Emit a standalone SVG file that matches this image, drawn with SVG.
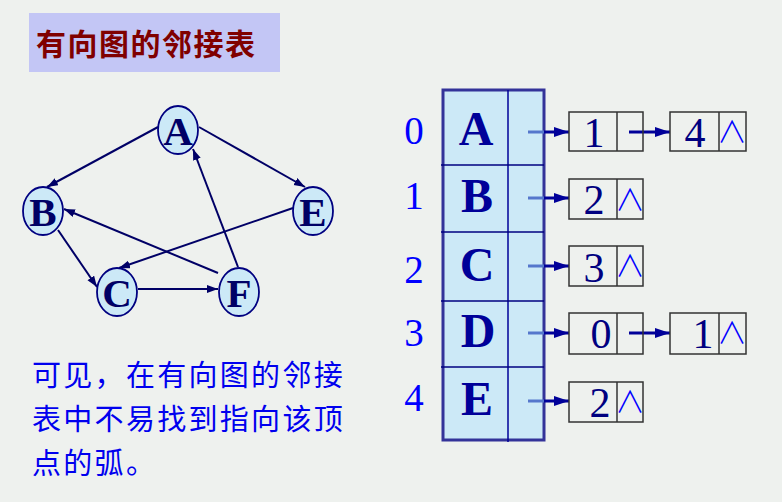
<svg xmlns="http://www.w3.org/2000/svg" width="782" height="502" viewBox="0 0 782 502">
<defs>
<style>
.node ellipse{fill:#cce9f7;stroke:#000080;stroke-width:1.8}
.node text{font-family:"Liberation Serif",serif;font-weight:bold;font-size:41px;fill:#000066;text-anchor:middle}
.edge{stroke:#000066;stroke-width:2;fill:none;marker-end:url(#ah)}
.tl{font-family:"Liberation Serif",serif;font-weight:bold;font-size:48px;fill:#000099;text-anchor:middle}
.idx{font-family:"Liberation Serif",serif;font-size:39px;fill:#0000ff;text-anchor:middle}
.box rect,.box line{fill:none;stroke:#333333;stroke-width:1.5}
.num{font-family:"Liberation Serif",serif;font-size:42px;fill:#000080;text-anchor:middle}
.nil{font-family:"Noto Sans CJK SC",sans-serif;font-weight:300;font-size:30px;fill:#0000ff;text-anchor:middle}
.ptr{stroke:#000099;stroke-width:3;fill:none;marker-end:url(#ah2)}
.ptrs{stroke:#5577cc;stroke-width:3}
.cjk{font-family:"Noto Sans CJK SC",sans-serif;font-size:29px;fill:#0000ee;letter-spacing:2.3px}
</style>
<marker id="ah" markerUnits="userSpaceOnUse" markerWidth="12" markerHeight="10" refX="11" refY="4" orient="auto"><path d="M0,0 L11,4 L0,8 z" fill="#000066"/></marker>
<marker id="ah2" markerUnits="userSpaceOnUse" markerWidth="16" markerHeight="12" refX="15" refY="5" orient="auto"><path d="M0,0 L15,5 L0,10 z" fill="#000099"/></marker>
</defs>
<rect width="782" height="502" fill="#eef1ee"/>
<g id="title">
<rect x="29" y="13" width="251" height="59" fill="#c3c6f5"/>
<text x="36" y="55" font-family="'Noto Sans CJK SC',sans-serif" font-weight="bold" font-size="30" fill="#800000" letter-spacing="1.5">有向图的邻接表</text>
</g>
<g id="connectors">
<line class="edge" x1="158" y1="127" x2="47" y2="187"/>
<line class="edge" x1="199" y1="127" x2="305" y2="187"/>
<line class="edge" x1="58" y1="230" x2="97" y2="287"/>
<line class="edge" x1="293" y1="208" x2="119" y2="268"/>
<line class="edge" x1="218" y1="273" x2="64" y2="209"/>
<line class="edge" x1="238" y1="267" x2="193" y2="149"/>
<line class="edge" x1="138" y1="289" x2="218" y2="289"/>
</g>
<g id="nA" class="node"><ellipse cx="178" cy="130" rx="20" ry="24"/><text x="178" y="145">A</text></g>
<g id="nB" class="node"><ellipse cx="43" cy="211" rx="20" ry="24"/><text x="43" y="226">B</text></g>
<g id="nE" class="node"><ellipse cx="313" cy="211" rx="20" ry="24"/><text x="313" y="226">E</text></g>
<g id="nC" class="node"><ellipse cx="117" cy="292" rx="20" ry="24"/><text x="117" y="307">C</text></g>
<g id="nF" class="node"><ellipse cx="239" cy="292" rx="20" ry="24"/><text x="239" y="307">F</text></g>
<g id="table">
<rect x="443" y="90" width="101" height="350" fill="#cce9f7" stroke="#333399" stroke-width="3"/>
<line x1="508" y1="90" x2="508" y2="442" stroke="#000099" stroke-width="1.5"/>
<line x1="441" y1="165" x2="544" y2="165" stroke="#000080" stroke-width="1.5"/>
<line x1="441" y1="232" x2="544" y2="232" stroke="#000080" stroke-width="1.5"/>
<line x1="441" y1="301" x2="544" y2="301" stroke="#000080" stroke-width="1.5"/>
<line x1="441" y1="367" x2="544" y2="367" stroke="#000080" stroke-width="1.5"/>
<text class="tl" x="476" y="145">A</text>
<text class="tl" x="477" y="212">B</text>
<text class="tl" x="477" y="281">C</text>
<text class="tl" x="478" y="347">D</text>
<text class="tl" x="477" y="415">E</text>
<text class="idx" x="414" y="144">0</text>
<text class="idx" x="414" y="209">1</text>
<text class="idx" x="414" y="283">2</text>
<text class="idx" x="414" y="346">3</text>
<text class="idx" x="414" y="411">4</text>
</g>
<g id="ptrs">
<line class="ptrs" x1="528" y1="132" x2="544" y2="132"/><line class="ptr" x1="544" y1="132" x2="569" y2="132"/>
<line class="ptrs" x1="528" y1="198" x2="544" y2="198"/><line class="ptr" x1="544" y1="198" x2="569" y2="198"/>
<line class="ptrs" x1="528" y1="266" x2="544" y2="266"/><line class="ptr" x1="544" y1="266" x2="569" y2="266"/>
<line class="ptrs" x1="528" y1="333" x2="544" y2="333"/><line class="ptr" x1="544" y1="333" x2="569" y2="333"/>
<line class="ptrs" x1="528" y1="401" x2="544" y2="401"/><line class="ptr" x1="544" y1="401" x2="569" y2="401"/>
<line class="ptr" x1="629" y1="132" x2="670" y2="132"/>
<line class="ptr" x1="629" y1="333" x2="670" y2="333"/>
</g>
<g id="r0a" class="box"><rect x="569" y="112" width="74" height="39"/><line x1="617" y1="112" x2="617" y2="151"/><text class="num" x="594" y="147">1</text></g>
<g id="r0b" class="box"><rect x="670" y="112" width="76" height="39"/><line x1="719" y1="112" x2="719" y2="151"/><text class="num" x="695" y="147">4</text><text class="nil" x="732" y="142">∧</text></g>
<g id="r1" class="box"><rect x="569" y="179" width="74" height="40"/><line x1="617" y1="179" x2="617" y2="219"/><text class="num" x="594" y="214">2</text><text class="nil" x="630" y="210">∧</text></g>
<g id="r2" class="box"><rect x="569" y="246" width="74" height="40"/><line x1="617" y1="246" x2="617" y2="286"/><text class="num" x="594" y="282">3</text><text class="nil" x="630" y="276">∧</text></g>
<g id="r3a" class="box"><rect x="569" y="313" width="74" height="41"/><line x1="617" y1="313" x2="617" y2="354"/><text class="num" x="601" y="348">0</text></g>
<g id="r3b" class="box"><rect x="670" y="313" width="76" height="41"/><line x1="719" y1="313" x2="719" y2="354"/><text class="num" x="703" y="348">1</text><text class="nil" x="732" y="343">∧</text></g>
<g id="r4" class="box"><rect x="569" y="382" width="74" height="40"/><line x1="617" y1="382" x2="617" y2="422"/><text class="num" x="600" y="417">2</text><text class="nil" x="630" y="412">∧</text></g>
<g id="note">
<text class="cjk" x="32" y="386">可见，在有向图的邻接</text>
<text class="cjk" x="32" y="430">表中不易找到指向该顶</text>
<text class="cjk" x="32" y="474">点的弧。</text>
</g>
</svg>
